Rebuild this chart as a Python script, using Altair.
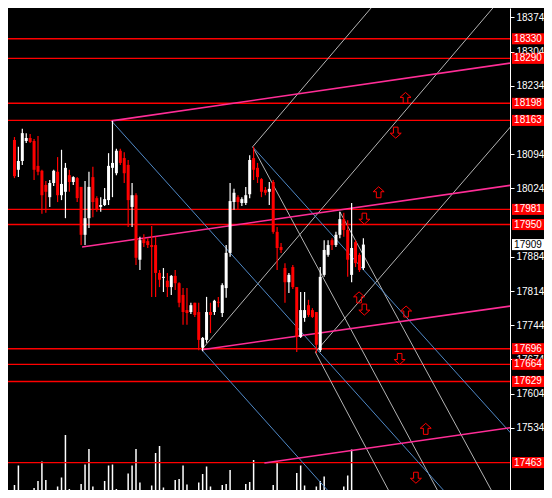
import altair as alt
import pandas as pd

# ---------------- data ----------------
opens = [18123, 18062, 18080, 18121, 18127, 18121, 18070, 18060, 18031, 18006,
         18035, 18058, 18010, 18017, 18051, 18037, 18045, 18027, 17929, 17963,
         18047, 18004, 17986, 17990, 18000, 18066, 18055, 18101, 18086, 18072,
         17986, 18010, 17878, 17920, 17916, 17908, 17908, 17851, 17841, 17835,
         17822, 17845, 17830, 17806, 17775, 17771, 17790, 17771, 17698, 17714,
         17771, 17771, 17792, 17769, 17820, 17892, 17996, 18006, 17994, 17994,
         18012, 18086, 18066, 18043, 18021, 18017, 18037, 17935, 17904, 17861,
         17832, 17863, 17822, 17720, 17759, 17785, 17775, 17771, 17693, 17847,
         17888, 17918, 17908, 17929, 17961, 17939, 17847, 17914, 17888, 17861]
highs = [18129, 18109, 18146, 18137, 18135, 18125, 18131, 18062, 18039, 18041,
         18062, 18088, 18103, 18076, 18062, 18049, 18047, 18027, 18039, 18058,
         18068, 18008, 18006, 18025, 18096, 18162, 18105, 18105, 18098, 18082,
         18035, 18014, 17925, 17930, 17922, 17947, 17925, 17857, 17861, 17851,
         17847, 17857, 17832, 17820, 17820, 17790, 17790, 17790, 17720, 17802,
         17790, 17796, 17802, 17830, 17908, 18035, 18023, 18010, 18006, 18027,
         18092, 18109, 18076, 18045, 18027, 18037, 18041, 17945, 17912, 17871,
         17851, 17867, 17822, 17812, 17812, 17796, 17779, 17771, 17863, 17918,
         17918, 17922, 17935, 17976, 17974, 17959, 17994, 17918, 17892, 17922]
lows = [18045, 18047, 18072, 18117, 18117, 18041, 18051, 17972, 17974, 17986,
        18029, 17996, 18000, 17963, 18017, 18031, 17996, 17908, 17908, 17943,
        17965, 17976, 17976, 17988, 17990, 18006, 18051, 18072, 18035, 17945,
        17945, 17867, 17857, 17904, 17902, 17802, 17802, 17822, 17812, 17802,
        17806, 17816, 17781, 17745, 17745, 17767, 17761, 17693, 17691, 17708,
        17728, 17765, 17781, 17761, 17800, 17884, 17980, 17980, 17988, 17990,
        18004, 18041, 18035, 18006, 18010, 17990, 17931, 17857, 17892, 17790,
        17810, 17818, 17689, 17718, 17751, 17761, 17759, 17687, 17689, 17843,
        17884, 17898, 17904, 17922, 17925, 17843, 17832, 17863, 17853, 17857]
closes = [18049, 18080, 18137, 18127, 18119, 18062, 18058, 18010, 18017, 18035,
          18060, 18010, 18033, 18066, 18037, 18047, 18004, 17929, 17963, 18027,
          17996, 17980, 17990, 18002, 18070, 18076, 18101, 18076, 18055, 18000,
          18010, 17882, 17918, 17912, 17908, 17904, 17851, 17837, 17843, 17822,
          17845, 17830, 17790, 17771, 17769, 17785, 17765, 17714, 17718, 17771,
          17765, 17794, 17790, 17826, 17892, 17998, 18015, 17996, 18002, 18010,
          18082, 18062, 18047, 18017, 18015, 18023, 17935, 17902, 17898, 17832,
          17847, 17822, 17720, 17775, 17775, 17765, 17761, 17704, 17843, 17898,
          17908, 17908, 17929, 17961, 17939, 17878, 17902, 17871, 17857, 17909]
volumes = [30, 69, 17, 0, 0, 24, 38, 77, 40, 0,
           0, 27, 45, 130, 22, 0, 0, 32, 71, 102,
           27, 0, 0, 38, 69, 71, 22, 0, 0, 53,
           69, 102, 35, 0, 0, 29, 94, 108, 25, 0,
           0, 40, 42, 69, 31, 0, 0, 35, 52, 67,
           27, 0, 0, 30, 32, 60, 18, 0, 0, 32,
           36, 80, 15, 0, 0, 15, 30, 77, 16, 10,
           0, 17, 54, 69, 29, 0, 0, 27, 38, 47,
           15, 0, 0, 17, 27, 49, 101, 0, 0, 0]

level_lines = [18330, 18290, 18198, 18163, 17981, 17950, 17696, 17664, 17629, 17463]
last_price = [17909]
# axis ticks that stay visible (18164, 17954 and 17464 sit fully under label boxes)
tick_values = [18374, 18304, 18234, 18094, 18024, 17884,
               17814, 17744, 17674, 17604, 17534]

# trend lines: start bar, start price, end bar, end price
pink_x1 = [24.75, 17.25, 47.75, 63.75]
pink_p1 = [18162, 17904, 17694, 17462]
pink_x2 = [128, 128, 128, 128]
pink_p2 = [18282, 18032, 17785, 17536]

blue_x1 = [24.75, 60.75, 47.75]
blue_p1 = [18162, 18109, 17694]
blue_x2 = [130, 130, 100]
blue_p2 = [17223, 17493, 17226]

gray_x1 = [47.75, 60.75, 76.75, 76.75, 60.75, 83]
gray_p1 = [17694, 18109, 17689, 17689, 18109, 17976]
gray_x2 = [130, 100, 130, 120, 120, 125]
gray_p2 = [18468, 18478, 18182, 17034, 17226, 17357]

up_x = [99.75, 92.9, 87.9, 99.9, 104.9]
up_p = [18209, 18016, 17801, 17772, 17532]
down_x = [97.25, 89.25, 89.25, 98.25, 102.4]
down_p = [18138, 17962, 17776, 17675, 17432]

# ---------------- tables ----------------
n = len(opens)
candles = pd.DataFrame({
    "i": list(range(n)), "open": opens, "high": highs, "low": lows, "close": closes,
})
candles["dir"] = ["up" if c >= o else "down" for o, c in zip(opens, closes)]
vol = pd.DataFrame({"i": list(range(n)), "vol": volumes, "zero": [0] * n})

def seg(x1, p1, x2, p2):
    return pd.DataFrame({"x1": x1, "p1": p1, "x2": x2, "p2": p2})

levels = pd.DataFrame({"level": level_lines, "label": [str(v) for v in level_lines]})
lastdf = pd.DataFrame({"level": last_price, "label": [str(v) for v in last_price]})
ups = pd.DataFrame({"x": up_x, "p": up_p})
downs = pd.DataFrame({"x": down_x, "p": down_p})

# ---------------- scales / axes ----------------
xsc = alt.Scale(domain=[-0.375, 125.125], nice=False, zero=False)
ysc = alt.Scale(domain=[17406.9, 18393.0], nice=False, zero=False)
yax = alt.Axis(orient="right", values=tick_values, format="d", title=None,
               labelColor="white", labelFont="Liberation Sans", labelFontSize=10,
               tickColor="white", tickSize=4, domainColor="white", labelPadding=2,
               grid=False, labelOverlap=False, labelFlush=False, labelBound=False)

RED = "#ff0000"
PINK = "#ff2d96"
BLUE = "#4f88c6"
GRAY = "#b4b4b4"

UP = "M0,-1 L1,-0.1 L0.42,-0.1 L0.42,1 L-0.42,1 L-0.42,-0.1 L-1,-0.1 Z"
DOWN = "M0,1 L1,0.1 L0.42,0.1 L0.42,-1 L-0.42,-1 L-0.42,0.1 L-1,0.1 Z"

def ylevel(field):
    return alt.Y(field, type="quantitative", scale=ysc, axis=yax)

hl = alt.Chart(levels).mark_rule(color=RED, strokeWidth=1.4).encode(y=ylevel("level"))

def lines(df, color, width):
    return alt.Chart(df).mark_rule(color=color, strokeWidth=width, clip=True).encode(
        x=alt.X("x1:Q", scale=xsc, axis=None), x2="x2:Q",
        y=ylevel("p1"), y2="p2:Q")

pink = lines(seg(pink_x1, pink_p1, pink_x2, pink_p2), PINK, 1.6)
blue = lines(seg(blue_x1, blue_p1, blue_x2, blue_p2), BLUE, 1)
gray = lines(seg(gray_x1, gray_p1, gray_x2, gray_p2), GRAY, 1)

col = alt.Color("dir:N", scale=alt.Scale(domain=["up", "down"], range=["#ffffff", RED]), legend=None)
wicks = alt.Chart(candles).mark_rule(strokeWidth=1.2, clip=True).encode(
    x=alt.X("i:Q", scale=xsc, axis=None), y=ylevel("low"), y2="high:Q", color=col)
bodies = alt.Chart(candles).mark_bar(size=3, clip=True).encode(
    x=alt.X("i:Q", scale=xsc, axis=None), y=ylevel("open"), y2="close:Q", color=col)

arr_up = alt.Chart(ups).mark_point(shape=UP, size=121, filled=False, color=RED,
                                   strokeWidth=1, opacity=1).encode(
    x=alt.X("x:Q", scale=xsc, axis=None), y=ylevel("p"))
arr_down = alt.Chart(downs).mark_point(shape=DOWN, size=121, filled=False, color=RED,
                                       strokeWidth=1, opacity=1).encode(
    x=alt.X("x:Q", scale=xsc, axis=None), y=ylevel("p"))

def boxes(df, fill, textcolor):
    base = alt.Chart(df).transform_calculate(lo="datum.level - 11.3", hi="datum.level + 11.3")
    r = base.mark_rect(color=fill).encode(
        x=alt.value(504), x2=alt.value(536), y=ylevel("lo"), y2="hi:Q")
    t = base.mark_text(align="center", baseline="middle", font="Liberation Sans",
                       fontSize=10, color=textcolor).encode(
        x=alt.value(520), y=ylevel("level"), text="label:N")
    return r + t

price = alt.layer(hl, gray, blue, pink, wicks, bodies, arr_up, arr_down,
                  boxes(levels, RED, "white"), boxes(lastdf, "white", "black"))

volume = alt.Chart(vol).mark_rule(color="white", strokeWidth=1.5, clip=True).encode(
    x=alt.X("i:Q", scale=xsc, axis=None),
    y=alt.Y("vol:Q", scale=alt.Scale(domain=[20, 984], nice=False, zero=False), axis=None),
    y2="zero:Q")

chart = alt.layer(volume, price).resolve_scale(y="independent").properties(
    width=502, height=482,
    padding={"left": 0, "top": 0, "right": 34, "bottom": 0},
    autosize=alt.AutoSizeParams(type="none"),
    background="#000000",
).configure_view(strokeWidth=0)

chart.save("out.html", embed_options={"renderer": "svg", "actions": False})
